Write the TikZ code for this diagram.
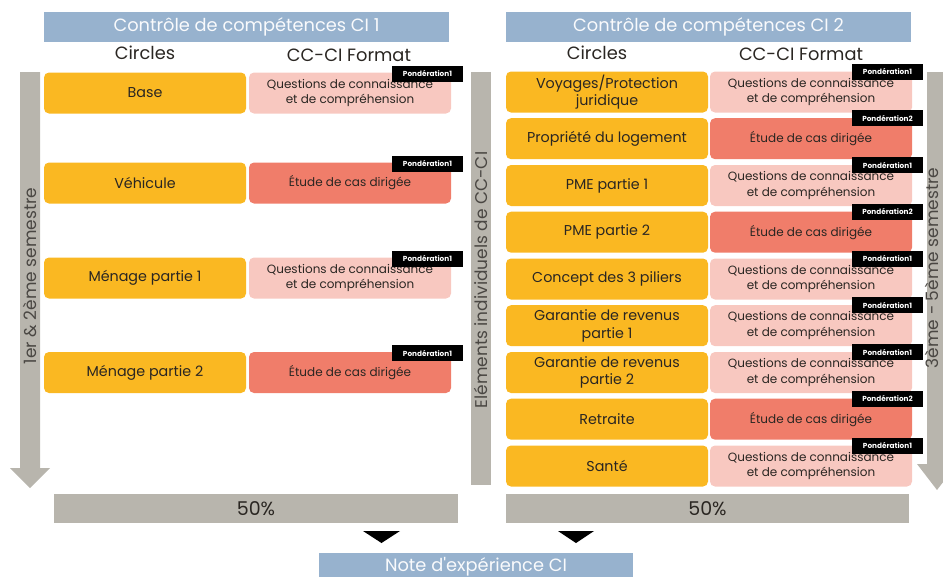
\documentclass[tikz,border=0pt]{standalone}
\usepackage{fontspec}
\setmainfont{Poppins}
\usetikzlibrary{positioning}
\definecolor{cibleu}{HTML}{97B2CE}
\definecolor{ciorange}{HTML}{FAB822}
\definecolor{cirose}{HTML}{F8C8C0}
\definecolor{cisaumon}{HTML}{F07D6A}
\definecolor{cigris}{HTML}{B8B5AD}
\definecolor{citexte}{HTML}{2A2622}
\tikzset{
  titre/.style={fill=cibleu, text=white!94!cibleu, minimum width=405pt, minimum height=30pt, inner sep=0pt, font=\fontsize{17.8}{19}\selectfont},
  entete/.style={text=citexte, font=\fontsize{17.8}{19}\selectfont},
  circle box/.style={fill=ciorange, rounded corners=5pt, minimum width=202pt, minimum height=41pt, inner sep=0pt, text=citexte, align=center, font=\fontsize{14.3}{17.5}\selectfont},
  qbox/.style={fill=cirose, rounded corners=5pt, minimum width=202pt, minimum height=41pt, inner sep=0pt, text=citexte, align=center, font=\fontsize{12}{15.5}\selectfont},
  ebox/.style={qbox, fill=cisaumon},
  badge/.style={fill=black, text=white, minimum width=71pt, minimum height=16pt, inner sep=0pt, font=\bfseries\fontsize{7.3}{8}\selectfont},
  total/.style={fill=cigris, text=citexte, minimum height=29pt, inner sep=0pt, font=\fontsize{19}{21}\selectfont},
  vlabel/.style={rotate=90, text=citexte!85!white, inner sep=0pt, font=\fontsize{17}{19}\selectfont}
}
\begin{document}
\begin{tikzpicture}[x=1pt,y=-1pt]
\useasboundingbox (0,0) rectangle (943,576);

% side bars
\fill[cigris] (20,72) -- (40,72) -- (40,468) -- (50,468) -- (30,488) -- (10,468) -- (20,468) -- cycle;
\fill[cigris] (471,72) rectangle (491,485);
\fill[cigris] (927,72) -- (947,72) -- (947,464) -- (957,464) -- (937,490) -- (917,464) -- (927,464) -- cycle;
\node[vlabel] (sem1) at (30,276) {1er \& 2ème semestre};
\node[vlabel] (elem) at (481,280) {Eléments individuels de CC-CI};
\node[vlabel] (sem2) at (932,268) {3ème - 5ème semestre};

% CI 1
\node[titre] (ci1) at (246.5,27) {Contrôle de compétences CI 1};
\node[entete] (circ1) at (145,53) {Circles};
\node[entete] (form1) at (349,55) {CC-CI Format};

\node[circle box] (a1) at (145,93) {Base};
\node[qbox] (f1) at (350,93) {Questions de connaissance\\et de compréhension};
\node[circle box] (a2) at (145,183) {Véhicule};
\node[ebox] (f2) at (350,183) {Étude de cas dirigée};
\node[circle box] (a3) at (145,278) {Ménage partie 1};
\node[qbox] (f3) at (350,278) {Questions de connaissance\\et de compréhension};
\node[circle box] (a4) at (145,372.5) {Ménage partie 2};
\node[ebox] (f4) at (350,372.5) {Étude de cas dirigée};

\node[badge, anchor=north east] (p1) at ([shift={(12,-7)}]f1.north east) {Pondération1};
\node[badge, anchor=north east] (p2) at ([shift={(12,-7)}]f2.north east) {Pondération1};
\node[badge, anchor=north east] (p3) at ([shift={(12,-7)}]f3.north east) {Pondération1};
\node[badge, anchor=north east] (p4) at ([shift={(12,-7)}]f4.north east) {Pondération1};

% CI 2
\node[titre] (ci2) at (708.5,27) {Contrôle de compétences CI 2};
\node[entete] (circ2) at (597,53) {Circles};
\node[entete] (form2) at (801,54) {CC-CI Format};

\node[circle box] (b1) at (607,92) {Voyages/Protection\\juridique};
\node[qbox] (g1) at (811,92) {Questions de connaissance\\et de compréhension};
\node[circle box] (b2) at (607,138.7) {Propriété du logement};
\node[ebox] (g2) at (811,138.7) {Étude de cas dirigée};
\node[circle box] (b3) at (607,185.5) {PME partie 1};
\node[qbox] (g3) at (811,185.5) {Questions de connaissance\\et de compréhension};
\node[circle box] (b4) at (607,232.2) {PME partie 2};
\node[ebox] (g4) at (811,232.2) {Étude de cas dirigée};
\node[circle box] (b5) at (607,279) {Concept des 3 piliers};
\node[qbox] (g5) at (811,279) {Questions de connaissance\\et de compréhension};
\node[circle box] (b6) at (607,325.7) {Garantie de revenus\\partie 1};
\node[qbox] (g6) at (811,325.7) {Questions de connaissance\\et de compréhension};
\node[circle box] (b7) at (607,372.5) {Garantie de revenus\\partie 2};
\node[qbox] (g7) at (811,372.5) {Questions de connaissance\\et de compréhension};
\node[circle box] (b8) at (607,419.2) {Retraite};
\node[ebox] (g8) at (811,419.2) {Étude de cas dirigée};
\node[circle box] (b9) at (607,466) {Santé};
\node[qbox] (g9) at (811,466) {Questions de connaissance\\et de compréhension};

\node[badge, anchor=north east] (q1) at ([shift={(11,-8)}]g1.north east) {Pondération1};
\node[badge, anchor=north east] (q2) at ([shift={(11,-8)}]g2.north east) {Pondération2};
\node[badge, anchor=north east] (q3) at ([shift={(11,-8)}]g3.north east) {Pondération1};
\node[badge, anchor=north east] (q4) at ([shift={(11,-8)}]g4.north east) {Pondération2};
\node[badge, anchor=north east] (q5) at ([shift={(11,-8)}]g5.north east) {Pondération1};
\node[badge, anchor=north east] (q6) at ([shift={(11,-8)}]g6.north east) {Pondération1};
\node[badge, anchor=north east] (q7) at ([shift={(11,-8)}]g7.north east) {Pondération1};
\node[badge, anchor=north east] (q8) at ([shift={(11,-8)}]g8.north east) {Pondération2};
\node[badge, anchor=north east] (q9) at ([shift={(11,-8)}]g9.north east) {Pondération1};

% totals
\node[total, minimum width=404pt] (tot1) at (256,508.5) {50\%};
\node[total, minimum width=403pt] (tot2) at (707.5,508.5) {50\%};
\fill[cibleu] (319,553) rectangle (633,580);
\node[text=white!94!cibleu, font=\fontsize{17.8}{19}\selectfont, anchor=base] (note) at (476,571) {Note d\textquotesingle expérience CI};

\fill (363,531) -- (400,531) -- (381.5,543) -- cycle;
\fill (558,531) -- (594,531) -- (576,543) -- cycle;
\end{tikzpicture}
\end{document}
